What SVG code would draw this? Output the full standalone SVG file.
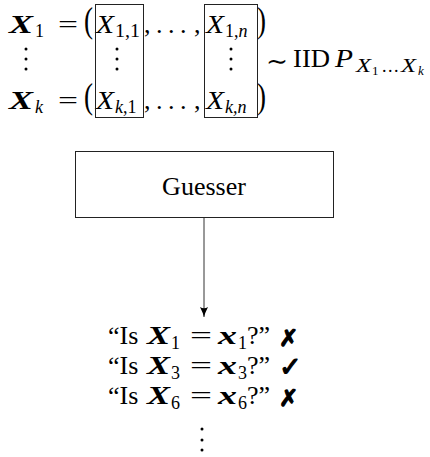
<svg xmlns="http://www.w3.org/2000/svg" width="430" height="457" viewBox="0 0 430 457">
<style>
  text { font-family: "Liberation Serif", "Times New Roman", serif; fill: #000; }
  .m { font-size: 26px; }
  .it { font-style: italic; }
  .bi { font-style: italic; font-weight: bold; }
  .sub { font-size: 18px; }
  .ssub { font-size: 13px; }
  .par { font-size: 36px; }
  .box { fill: none; stroke: #222; stroke-width: 1; }
  .dot { fill: #000; }
  .mark { font-family: "DejaVu Sans", sans-serif; font-weight: bold; stroke: #000; stroke-width: 1.2; stroke-linejoin: round; }
  .x { font-size: 23px; }
  .ok { font-size: 27px; }
  .conn { stroke: #333; stroke-width: 1; fill: none; }
</style>
<defs>
  <marker id="arr" markerUnits="userSpaceOnUse" viewBox="0 0 10 10" refX="10" refY="5" markerWidth="10" markerHeight="10" orient="auto">
    <path d="M0,1 Q6,4 10,5 Q6,6 0,9 Q2.5,5 0,1 Z" fill="#000"/>
  </marker>
</defs>

<g id="vectors">
  <!-- Row 1 -->
  <text class="m bi" x="9" y="33" textLength="24" lengthAdjust="spacingAndGlyphs">X</text>
  <text class="sub" x="35" y="37">1</text>
  <text class="m" x="58" y="33" textLength="20" lengthAdjust="spacingAndGlyphs">=</text>
  <text class="par" x="84" y="32" textLength="9" lengthAdjust="spacingAndGlyphs">(</text>
  <text class="m it" x="96" y="33" textLength="18" lengthAdjust="spacingAndGlyphs">X</text>
  <text class="sub" x="115" y="37" textLength="25" lengthAdjust="spacingAndGlyphs">1,1</text>
  <text class="m" x="144" y="33">,</text>
  <text class="m"><tspan x="156" y="33">.</tspan><tspan x="168" y="33">.</tspan><tspan x="180" y="33">.</tspan><tspan x="194" y="33">,</tspan></text>
  <text class="m it" x="206" y="33" textLength="18" lengthAdjust="spacingAndGlyphs">X</text>
  <text class="sub" x="225" y="37"><tspan>1,</tspan><tspan class="it">n</tspan></text>
  <text class="par" x="257" y="32" textLength="9" lengthAdjust="spacingAndGlyphs">)</text>

  <!-- vertical dots -->
  <circle class="dot" cx="26" cy="49" r="1.5"/>
  <circle class="dot" cx="26" cy="59" r="1.5"/>
  <circle class="dot" cx="26" cy="69" r="1.5"/>
  <circle class="dot" cx="117" cy="49" r="1.5"/>
  <circle class="dot" cx="117" cy="59" r="1.5"/>
  <circle class="dot" cx="117" cy="69" r="1.5"/>
  <circle class="dot" cx="231" cy="49" r="1.5"/>
  <circle class="dot" cx="231" cy="59" r="1.5"/>
  <circle class="dot" cx="231" cy="69" r="1.5"/>

  <!-- Row 2 -->
  <text class="m bi" x="9" y="109" textLength="24" lengthAdjust="spacingAndGlyphs">X</text>
  <text class="sub it" x="35" y="113">k</text>
  <text class="m" x="58" y="109" textLength="20" lengthAdjust="spacingAndGlyphs">=</text>
  <text class="par" x="84" y="108" textLength="9" lengthAdjust="spacingAndGlyphs">(</text>
  <text class="m it" x="96" y="109" textLength="18" lengthAdjust="spacingAndGlyphs">X</text>
  <text class="sub" x="115" y="113"><tspan class="it">k</tspan><tspan>,1</tspan></text>
  <text class="m" x="144" y="109">,</text>
  <text class="m"><tspan x="156" y="109">.</tspan><tspan x="168" y="109">.</tspan><tspan x="180" y="109">.</tspan><tspan x="194" y="109">,</tspan></text>
  <text class="m it" x="206" y="109" textLength="18" lengthAdjust="spacingAndGlyphs">X</text>
  <text class="sub it" x="225" y="113">k,n</text>
  <text class="par" x="257" y="108" textLength="9" lengthAdjust="spacingAndGlyphs">)</text>

  <!-- boxes -->
  <rect class="box" x="95.5" y="4.5" width="48" height="113"/>
  <rect class="box" x="204.5" y="4.5" width="53" height="113"/>

  <!-- distribution -->
  <text x="266" y="70" style="font-family:'DejaVu Serif',serif;font-size:26px" textLength="22" lengthAdjust="spacingAndGlyphs">∼</text>
  <text class="m" x="293" y="67" textLength="37" lengthAdjust="spacingAndGlyphs">IID</text>
  <text class="m it" x="335" y="67" textLength="18" lengthAdjust="spacingAndGlyphs">P</text>
  <text class="sub it" x="356" y="72" textLength="15" lengthAdjust="spacingAndGlyphs">X</text>
  <text class="ssub" x="372" y="75">1</text>
  <text class="sub"><tspan x="382" y="72">.</tspan><tspan x="388" y="72">.</tspan><tspan x="394" y="72">.</tspan></text>
  <text class="sub it" x="401" y="72" textLength="15" lengthAdjust="spacingAndGlyphs">X</text>
  <text class="ssub it" x="418" y="75">k</text>
</g>

<g id="guesser">
  <rect class="box" x="75.5" y="151.5" width="258" height="66"/>
  <text class="m" x="204" y="195" text-anchor="middle">Guesser</text>
</g>

<g id="questions">
  <text class="m" x="108" y="344">“Is</text>
  <text class="m bi" x="147" y="344" textLength="23" lengthAdjust="spacingAndGlyphs">X</text>
  <text class="sub" x="171" y="349">1</text>
  <text class="m" x="190" y="344" textLength="22" lengthAdjust="spacingAndGlyphs">=</text>
  <text class="m bi" x="218" y="344" textLength="19" lengthAdjust="spacingAndGlyphs">x</text>
  <text class="sub" x="238" y="349">1</text>
  <text class="m" x="247" y="344">?”</text>
  <text class="mark x" x="279" y="346">✗</text>

  <text class="m" x="108" y="374">“Is</text>
  <text class="m bi" x="147" y="374" textLength="23" lengthAdjust="spacingAndGlyphs">X</text>
  <text class="sub" x="171" y="379">3</text>
  <text class="m" x="190" y="374" textLength="22" lengthAdjust="spacingAndGlyphs">=</text>
  <text class="m bi" x="218" y="374" textLength="19" lengthAdjust="spacingAndGlyphs">x</text>
  <text class="sub" x="238" y="379">3</text>
  <text class="m" x="247" y="374">?”</text>
  <text class="mark ok" x="279" y="376">✓</text>

  <text class="m" x="108" y="404">“Is</text>
  <text class="m bi" x="147" y="404" textLength="23" lengthAdjust="spacingAndGlyphs">X</text>
  <text class="sub" x="171" y="409">6</text>
  <text class="m" x="190" y="404" textLength="22" lengthAdjust="spacingAndGlyphs">=</text>
  <text class="m bi" x="218" y="404" textLength="19" lengthAdjust="spacingAndGlyphs">x</text>
  <text class="sub" x="238" y="409">6</text>
  <text class="m" x="247" y="404">?”</text>
  <text class="mark x" x="279" y="406">✗</text>

  <circle class="dot" cx="202" cy="429" r="1.5"/>
  <circle class="dot" cx="202" cy="440" r="1.5"/>
  <circle class="dot" cx="202" cy="450" r="1.5"/>
</g>

<g id="connectors">
  <line class="conn" x1="204" y1="218" x2="204" y2="317" marker-end="url(#arr)"/>
</g>
</svg>
